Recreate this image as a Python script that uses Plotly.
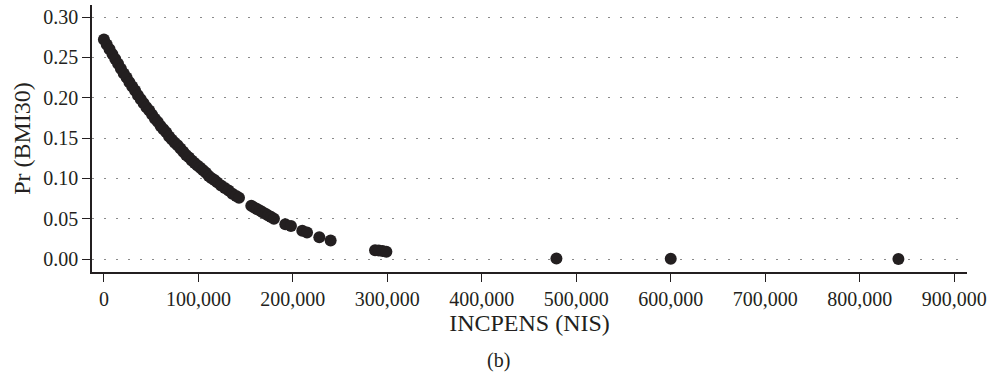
import plotly.graph_objects as go

# INCPENS (NIS) values and predicted probability Pr(BMI30)
incpens = [
    0, 3000, 6000, 9000, 12000, 15000, 18000, 21000, 24000, 27000, 30000,
    33000, 36000, 39000, 42000, 45000, 48000, 51000, 54000, 57000, 60000,
    63000, 66000, 69000, 72000, 75000, 78000, 81000, 84000, 87000, 90000,
    93000, 96000, 99000, 102000, 105000, 108000, 111000, 114000, 117000,
    120000, 124000, 128000, 132000, 136000, 140000, 143000,
    156000, 159000, 162000, 165000, 168000, 171000, 174000, 177000, 180000,
    192000, 198000, 210000, 215000, 228000, 240000,
    287000, 291000, 295000, 299000,
    479000, 600000, 841000,
]
pr_bmi30 = [
    0.272, 0.266, 0.260, 0.254, 0.248, 0.242, 0.236, 0.230, 0.225, 0.219, 0.214,
    0.209, 0.203, 0.198, 0.193, 0.188, 0.184, 0.179, 0.174, 0.170, 0.165,
    0.161, 0.157, 0.152, 0.148, 0.144, 0.141, 0.137, 0.133, 0.129, 0.126,
    0.122, 0.119, 0.116, 0.113, 0.110, 0.107, 0.103, 0.100, 0.098,
    0.095, 0.091, 0.088, 0.085, 0.081, 0.078, 0.076,
    0.066, 0.064, 0.062, 0.060, 0.058, 0.056, 0.054, 0.052, 0.050,
    0.043, 0.041, 0.035, 0.033, 0.027, 0.023,
    0.011, 0.0105, 0.010, 0.009,
    0.0006, 0.0002, 0.0000,
]

x_ticks = [0, 100000, 200000, 300000, 400000, 500000, 600000, 700000, 800000, 900000]
x_tick_labels = ["0", "100,000", "200,000", "300,000", "400,000", "500,000",
                 "600,000", "700,000", "800,000", "900,000"]
y_ticks = [0.00, 0.05, 0.10, 0.15, 0.20, 0.25, 0.30]
y_tick_labels = ["0.00", "0.05", "0.10", "0.15", "0.20", "0.25", "0.30"]

ink = "#231f20"
font_family = "Liberation Serif, Times New Roman, serif"

fig = go.Figure()
fig.add_trace(go.Scatter(
    x=incpens, y=pr_bmi30, mode="markers",
    marker=dict(size=12, color=ink, line=dict(width=0)),
    showlegend=False, hoverinfo="x+y",
))

fig.update_layout(
    width=992, height=376,
    margin=dict(l=92, r=21, t=5, b=104),
    paper_bgcolor="white", plot_bgcolor="white",
    font=dict(family=font_family, size=20, color=ink),
    xaxis=dict(
        range=[-12600, 913600],
        tickmode="array", tickvals=x_ticks, ticktext=x_tick_labels,
        ticks="outside", ticklen=8, tickwidth=1.3, tickcolor=ink,
        showline=True, linecolor=ink, linewidth=1.5,
        showgrid=False, zeroline=False,
        title=dict(text="INCPENS (NIS)", standoff=4),
    ),
    yaxis=dict(
        range=[-0.0161, 0.3149],
        tickmode="array", tickvals=y_ticks, ticktext=y_tick_labels,
        ticks="outside", ticklen=8, tickwidth=1.3, tickcolor=ink,
        showline=True, linecolor=ink, linewidth=1.5,
        showgrid=True, gridcolor="#8a8a8a", gridwidth=1, griddash="2px,10px",
        zeroline=False,
        title=dict(text="Pr (BMI30)", standoff=6),
    ),
    annotations=[dict(
        text="(b)", xref="paper", yref="paper",
        x=(500 - 92) / 879, y=(272 - 360) / 267,
        xanchor="center", yanchor="middle", showarrow=False,
        font=dict(family=font_family, size=20, color=ink),
    )],
)

fig.write_html("out.html")
